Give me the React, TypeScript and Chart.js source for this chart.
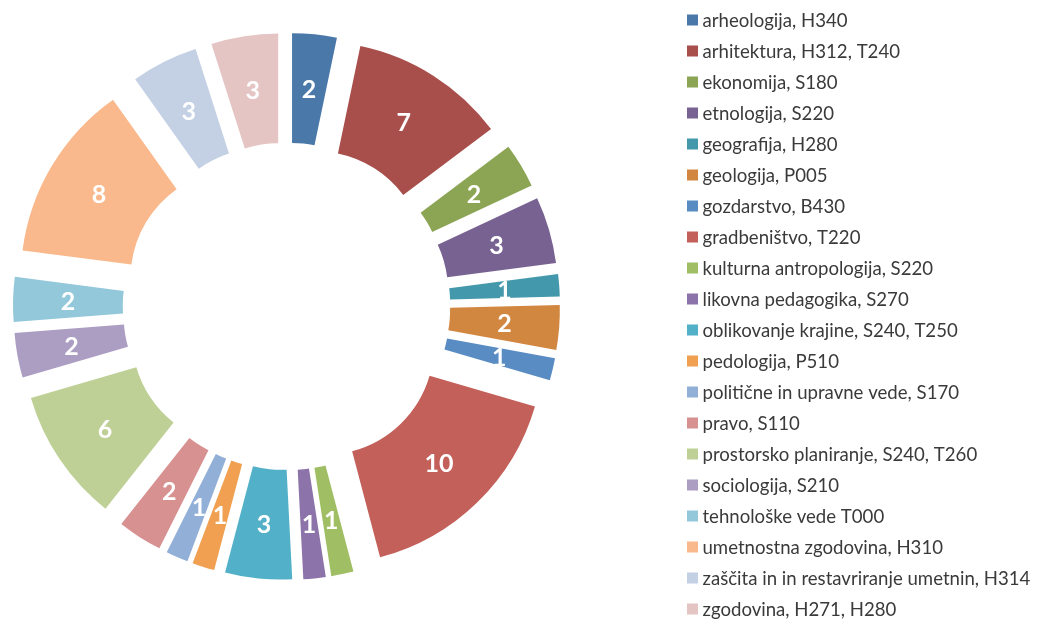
import React, { useEffect, useRef } from "react";
import { Chart, registerables } from "chart.js";

Chart.register(...registerables);

const categories: string[] = [
  "arheologija, H340",
  "arhitektura, H312, T240",
  "ekonomija, S180",
  "etnologija, S220",
  "geografija, H280",
  "geologija, P005",
  "gozdarstvo, B430",
  "gradbeništvo, T220",
  "kulturna antropologija, S220",
  "likovna pedagogika, S270",
  "oblikovanje krajine, S240, T250",
  "pedologija, P510",
  "politične in upravne vede, S170",
  "pravo, S110",
  "prostorsko planiranje, S240, T260",
  "sociologija, S210",
  "tehnološke vede T000",
  "umetnostna zgodovina, H310",
  "zaščita in in restavriranje umetnin, H314",
  "zgodovina, H271, H280",
];

const values: number[] = [2, 7, 2, 3, 1, 2, 1, 10, 1, 1, 3, 1, 1, 2, 6, 2, 2, 8, 3, 3];

const colors: string[] = [
  "#4A78A8",
  "#A84F4C",
  "#8CA555",
  "#786291",
  "#4498AB",
  "#D28741",
  "#5A8CC4",
  "#C3605A",
  "#A0BE64",
  "#8C73AA",
  "#52B0C8",
  "#F0A050",
  "#91AFD7",
  "#D79191",
  "#BED096",
  "#AC9DC3",
  "#92C8DA",
  "#FAB98C",
  "#C4D0E4",
  "#E5C4C4",
];

const EXPLODE = 54;
const FONT = "Lato, 'Open Sans', sans-serif";

export default function App() {
  const ref = useRef<HTMLCanvasElement | null>(null);

  useEffect(() => {
    const canvas = ref.current;
    if (!canvas) return;

    const explodePlugin = {
      id: "explode",
      beforeDatasetDraw(chart: any, args: any) {
        const ctx = chart.ctx;
        args.meta.data.forEach((arc: any) => {
          const mid = (arc.startAngle + arc.endAngle) / 2;
          ctx.save();
          ctx.translate(Math.cos(mid) * EXPLODE, Math.sin(mid) * EXPLODE);
          arc.draw(ctx);
          ctx.restore();
        });
        return false;
      },
      afterDatasetsDraw(chart: any) {
        const ctx = chart.ctx;
        const meta = chart.getDatasetMeta(0);
        const ds = chart.data.datasets[0];
        ctx.save();
        ctx.fillStyle = "#ffffff";
        ctx.font = `bold 25px ${FONT}`;
        ctx.textAlign = "center";
        ctx.textBaseline = "middle";
        meta.data.forEach((arc: any, i: number) => {
          const mid = (arc.startAngle + arc.endAngle) / 2;
          const r = (arc.innerRadius + arc.outerRadius) / 2 + EXPLODE;
          ctx.fillText(String(ds.data[i]), arc.x + Math.cos(mid) * r, arc.y + Math.sin(mid) * r + 1);
        });
        ctx.restore();
      },
    };

    const legendPlugin = {
      id: "sideLegend",
      afterDraw(chart: any) {
        const ctx = chart.ctx;
        const labels = chart.data.labels as string[];
        const bg = chart.data.datasets[0].backgroundColor as string[];
        const x0 = 687;
        const y0 = 20;
        const pitch = 31;
        const box = 11;
        ctx.save();
        ctx.font = `18.6px ${FONT}`;
        ctx.textBaseline = "middle";
        ctx.textAlign = "left";
        labels.forEach((lab, i) => {
          const cy = y0 + i * pitch;
          ctx.fillStyle = bg[i];
          ctx.fillRect(x0, cy - box / 2, box, box);
          ctx.fillStyle = "#3a3a3a";
          ctx.fillText(lab, x0 + box + 4.5, cy + 1);
        });
        ctx.restore();
      },
    };

    const chart = new Chart(canvas, {
      type: "doughnut",
      data: {
        labels: categories,
        datasets: [
          {
            data: values,
            backgroundColor: colors,
            borderWidth: 0,
          },
        ],
      },
      options: {
        responsive: false,
        animation: false,
        radius: 219.5,
        cutout: "50%",
        layout: { padding: { left: 0, top: 0, right: 464, bottom: 9.2 } },
        plugins: {
          legend: { display: false },
          tooltip: { enabled: false },
        },
      } as any,
      plugins: [explodePlugin, legendPlugin],
    });

    return () => chart.destroy();
  }, []);

  return (
    <div style={{ position: "fixed", left: 0, top: 0, width: 1037, height: 622 }}>
      <canvas ref={ref} width={1037} height={622} style={{ display: "block", width: 1037, height: 622 }} />
    </div>
  );
}
